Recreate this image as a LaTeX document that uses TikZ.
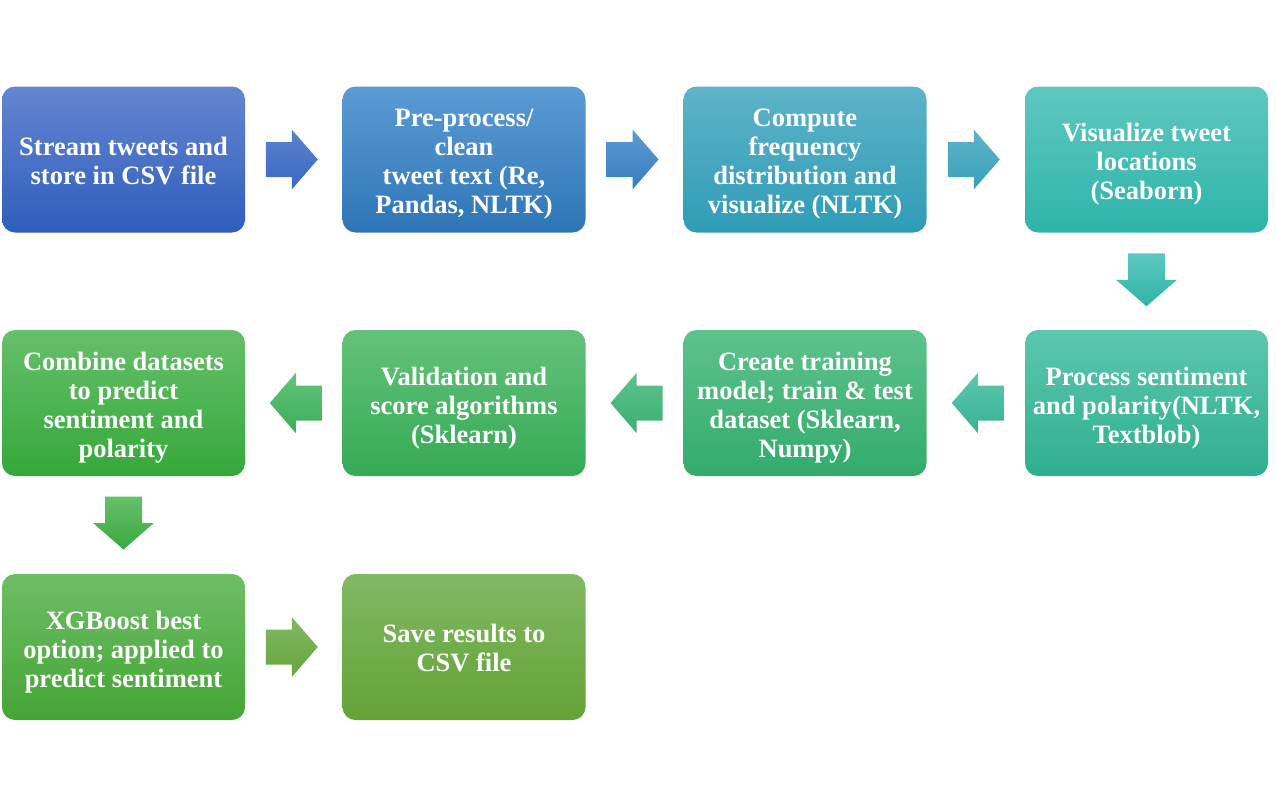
\documentclass[tikz,border=0pt]{standalone}
\usepackage{fontspec}
\setmainfont{Liberation Serif}
\usetikzlibrary{calc}
\definecolor{aT}{HTML}{6585D0}\definecolor{aB}{HTML}{2E5EBD}
\definecolor{bT}{HTML}{5B9BD5}\definecolor{bB}{HTML}{2E75B6}
\definecolor{cT}{HTML}{5EB3C8}\definecolor{cB}{HTML}{2E9CB6}
\definecolor{dT}{HTML}{5FC8BF}\definecolor{dB}{HTML}{2EB4AA}
\definecolor{eT}{HTML}{5CC7AE}\definecolor{eB}{HTML}{2FAF8E}
\definecolor{fT}{HTML}{5EC28C}\definecolor{fB}{HTML}{33AB6C}
\definecolor{gT}{HTML}{64C27A}\definecolor{gB}{HTML}{35AA55}
\definecolor{hT}{HTML}{66BF6A}\definecolor{hB}{HTML}{35A83A}
\definecolor{iT}{HTML}{6FBD66}\definecolor{iB}{HTML}{44A535}
\definecolor{jT}{HTML}{82B864}\definecolor{jB}{HTML}{62A336}
\definecolor{arT}{HTML}{5A82D0}\definecolor{arB}{HTML}{3A68C4}
\newcommand{\blockR}[3]{\shade[top color=#2,bottom color=#3]
  ($(#1)+(-26,-17.5)$) -- ($(#1)+(0,-17.5)$) -- ($(#1)+(0,-30)$) -- ($(#1)+(26,0)$)
  -- ($(#1)+(0,30)$) -- ($(#1)+(0,17.5)$) -- ($(#1)+(-26,17.5)$) -- cycle;}
\newcommand{\blockL}[3]{\shade[top color=#2,bottom color=#3]
  ($(#1)+(26,-17.5)$) -- ($(#1)+(0,-17.5)$) -- ($(#1)+(0,-30)$) -- ($(#1)+(-26,0)$)
  -- ($(#1)+(0,30)$) -- ($(#1)+(0,17.5)$) -- ($(#1)+(26,17.5)$) -- cycle;}
\newcommand{\blockD}[3]{\shade[top color=#2,bottom color=#3]
  ($(#1)+(-18.5,-26.5)$) -- ($(#1)+(18.5,-26.5)$) -- ($(#1)+(18.5,0)$) -- ($(#1)+(30.5,0)$)
  -- ($(#1)+(0,26.5)$) -- ($(#1)+(-30.5,0)$) -- ($(#1)+(-18.5,0)$) -- cycle;}
\tikzset{
  stepbox/.style={rounded corners=13pt, minimum width=243pt, minimum height=146pt,
    inner sep=0pt},
  steptext/.style={inner sep=0pt, align=center, text=white,
    font=\bfseries\fontsize{26.5}{29}\selectfont}
}
\begin{document}
\begin{tikzpicture}[x=1pt,y=-1pt]
\useasboundingbox (0,0) rectangle (1276,807);
% row 1
\node[stepbox, top color=aT, bottom color=aB] (b1) at (123.5,159.5) {};
\node[stepbox, top color=bT, bottom color=bB] (b2) at (464,159.5) {};
\node[stepbox, top color=cT, bottom color=cB] (b3) at (805,159.5) {};
\node[stepbox, top color=dT, bottom color=dB] (b4) at (1146.5,159.5) {};
% row 2
\node[stepbox, top color=eT, bottom color=eB] (b5) at (1146.5,403) {};
\node[stepbox, top color=fT, bottom color=fB] (b6) at (805,403) {};
\node[stepbox, top color=gT, bottom color=gB] (b7) at (464,403) {};
\node[stepbox, top color=hT, bottom color=hB] (b8) at (123.5,403) {};
% row 3
\node[stepbox, top color=iT, bottom color=iB] (b9) at (123.5,647) {};
\node[stepbox, top color=jT, bottom color=jB] (b10) at (464,647) {};
% texts
\node[steptext] (t1) at ($(b1.center)+(0,1)$) {Stream tweets and\\store in CSV file};
\node[steptext] (t2) at ($(b2.center)+(0,5)$) {Pre-process/\\clean\\tweet text (Re,\\Pandas, NLTK)};
\node[steptext] (t3) at ($(b3.center)+(0,5)$) {Compute\\frequency\\distribution and\\visualize (NLTK)};
\node[steptext] (t4) at ($(b4.center)+(0,5)$) {Visualize tweet\\locations\\(Seaborn)};
\node[steptext] (t5) at ($(b5.center)+(0,5)$) {Process sentiment\\and polarity(NLTK,\\Textblob)};
\node[steptext] (t6) at ($(b6.center)+(0,5)$) {Create training\\model; train \& test\\dataset (Sklearn,\\Numpy)};
\node[steptext] (t7) at ($(b7.center)+(0,5)$) {Validation and\\score algorithms\\(Sklearn)};
\node[steptext] (t8) at ($(b8.center)+(0,5)$) {Combine datasets\\to predict\\sentiment and\\polarity};
\node[steptext] (t9) at ($(b9.center)+(0,5)$) {XGBoost best\\option; applied to\\predict sentiment};
\node[steptext] (t10) at ($(b10.center)+(0,1)$) {Save results to\\CSV file};
% arrow positions
\coordinate (a12) at ($(b1.east)!0.5!(b2.west)+(-2,0)$);
\coordinate (a23) at ($(b2.east)!0.5!(b3.west)+(-2,0)$);
\coordinate (a34) at ($(b3.east)!0.5!(b4.west)+(-2,0)$);
\coordinate (a45) at ($(b4.south)!0.5!(b5.north)+(0,-1.5)$);
\coordinate (a56) at ($(b5.west)!0.5!(b6.east)+(2,0)$);
\coordinate (a67) at ($(b6.west)!0.5!(b7.east)+(2,0)$);
\coordinate (a78) at ($(b7.west)!0.5!(b8.east)+(2,0)$);
\coordinate (a89) at ($(b8.south)!0.5!(b9.north)+(0,-2)$);
\coordinate (a910) at ($(b9.east)!0.5!(b10.west)+(-2,0)$);
\blockR{a12}{arT}{arB}
\blockR{a23}{bT}{bB!80!bT}
\blockR{a34}{cT}{cB!80!cT}
\blockD{a45}{dT}{dB!90!eB}
\blockL{a56}{eT}{eB!85!eT}
\blockL{a67}{fT}{fB!85!fT}
\blockL{a78}{gT}{gB!85!gT}
\blockD{a89}{hT}{hB!90!hT}
\blockR{a910}{jT}{jB!90!jT}
\end{tikzpicture}
\end{document}
